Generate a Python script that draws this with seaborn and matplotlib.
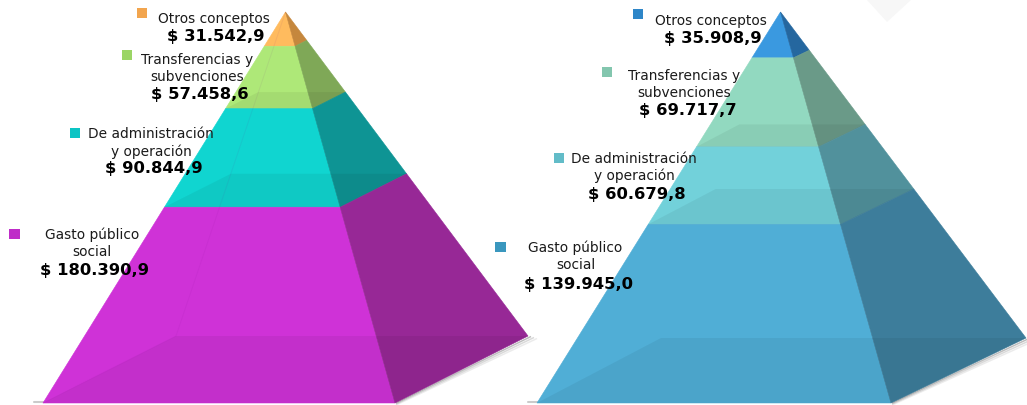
import numpy as np
import pandas as pd
import matplotlib.pyplot as plt
import seaborn as sns

# Data, top segment first
categories = ['Otros conceptos', 'Transferencias y\nsubvenciones',
              'De administración\ny operación', 'Gasto público\nsocial']
values_left = [31542.9, 57458.6, 90844.9, 180390.9]
values_right = [35908.9, 69717.7, 60679.8, 139945.0]

# Colours
front_left = ['#FFBB5E', '#AEE878', '#10D5D0', '#CF32D7']
side_left = ['#C5873D', '#7FA857', '#0E9494', '#972896']
marker_left = ['#F2A54E', '#9BD565', '#0CC4C4', '#BF2CC8']
front_right = ['#3A99E0', '#92D9C0', '#72D1DA', '#50AED6']
side_right = ['#25679F', '#6A9A88', '#51919C', '#3D7D9B']
marker_right = ['#2E86C8', '#83C6AE', '#62BCC8', '#3A97BE']

sns.set_theme(style='white')
plt.rcParams['font.family'] = ['DejaVu Sans']

fig, ax = plt.subplots(figsize=(10.27, 4.05), dpi=100)
ax.set_position([0, 0, 1, 1])
ax.set_xlim(0, 1027)
ax.set_ylim(405, 0)
ax.axis('off')


def lerp(a, b, t):
    return (a[0] + (b[0] - a[0]) * t, a[1] + (b[1] - a[1]) * t)


def pyramid(values, front, side, apex, fl, fr, br, bl, back_line):
    # segment heights follow the values
    cum = np.cumsum([0] + values) / sum(values)
    # shadow under the right base edge
    for off, a in [(1, .35), (2, .2), (3, .1)]:
        ax.plot([fr[0] + 1, br[0] + 3 * off], [fr[1] + off - 1, br[1] + off - .5],
                color='#444444', alpha=a, lw=1.1, zorder=1, solid_capstyle='butt')
    ax.plot([fl[0] - 9, fl[0] + 6], [fl[1] - 1, fl[1] - 1], color='#555555', alpha=.3, lw=1.5, zorder=1)
    for i in range(len(values)):
        t0, t1 = cum[i], cum[i + 1]
        f = [lerp(apex, fl, t0), lerp(apex, fr, t0), lerp(apex, fr, t1), lerp(apex, fl, t1)]
        s = [lerp(apex, fr, t0), lerp(apex, br, t0), lerp(apex, br, t1), lerp(apex, fr, t1)]
        ax.fill(*zip(*f), color=front[i], lw=0.4, zorder=2)
        ax.fill(*zip(*s), color=side[i], lw=0.4, zorder=2)
        # darker band: the segment's bottom plane seen through the surface
        if i > 0:
            band = [lerp(apex, bl, t1), lerp(apex, br, t1), lerp(apex, fr, t1), lerp(apex, fl, t1)]
            ax.fill(*zip(*band), color='black', alpha=0.055, lw=0, zorder=3)
    if back_line:
        ax.plot([apex[0], bl[0], fl[0]], [apex[1], bl[1], fl[1]],
                color='#7A1090', alpha=0.07, lw=0.7, zorder=3)


# faint mark at the top of the right chart
ax.fill([867, 911, 887], [0, 0, 22], color='#F7F7F7', lw=0, zorder=0)

pyramid(values_left, front_left, side_left, (285.5, 12), (43, 403), (395, 403),
        (528, 336), (176, 336), True)
pyramid(values_right, front_right, side_right, (780.5, 12), (537, 403), (891, 403),
        (1026, 338), (661, 338), False)


def fmt(v):
    return '$ ' + f'{v:,.1f}'.replace(',', 'X').replace('.', ',').replace('X', '.')


def labels(values, markers, name_pos, value_pos, square_pos):
    df = pd.DataFrame({'x': [p[0] for p in square_pos], 'y': [p[1] for p in square_pos],
                       'cat': categories})
    sns.scatterplot(data=df, x='x', y='y', hue='cat', palette=markers, marker='s', s=58,
                    linewidth=0, legend=False, ax=ax, zorder=5)
    for c, v, np_, vp in zip(categories, values, name_pos, value_pos):
        ax.text(np_[0], np_[1], c, ha='center', va='center', fontsize=9.9,
                color='#1A1A1A', linespacing=1.25, zorder=6)
        ax.text(vp[0], vp[1], fmt(v), ha='center', va='center', fontsize=11.8,
                fontweight='bold', color='black', zorder=6)


labels(values_left, marker_left,
       [(213.5, 19), (197, 68.5), (151, 143), (92, 243.5)],
       [(216, 37), (200, 95), (154, 169), (94, 270)],
       [(142, 13), (127, 55), (75, 133), (14.5, 234)])
labels(values_right, marker_right,
       [(711, 21), (684, 84.5), (634, 167.5), (575.5, 256.5)],
       [(713, 39), (688, 111), (637, 194), (578, 284)],
       [(638, 14), (607, 72), (559, 158), (500.5, 247)])

ax.set_xlabel('')
ax.set_ylabel('')
fig.savefig('out.png', dpi=100)
